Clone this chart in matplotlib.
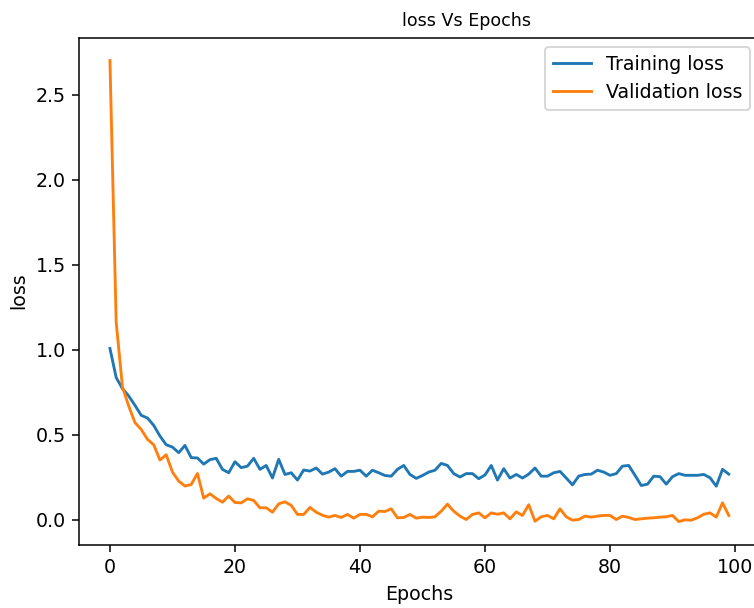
import matplotlib
matplotlib.use("Agg")
import matplotlib.pyplot as plt

epochs = list(range(100))

train_loss = [1.006, 0.835, 0.77, 0.727, 0.672, 0.613, 0.597, 0.554, 0.491, 0.44,
              0.426, 0.393, 0.436, 0.364, 0.362, 0.326, 0.352, 0.36, 0.295, 0.275,
              0.34, 0.305, 0.314, 0.36, 0.295, 0.318, 0.244, 0.354, 0.265, 0.275,
              0.232, 0.291, 0.285, 0.303, 0.267, 0.279, 0.299, 0.255, 0.283, 0.283,
              0.29, 0.255, 0.29, 0.275, 0.259, 0.255, 0.295, 0.318, 0.265, 0.242,
              0.259, 0.279, 0.29, 0.33, 0.318, 0.27, 0.25, 0.27, 0.27, 0.24,
              0.262, 0.318, 0.232, 0.299, 0.244, 0.265, 0.244, 0.267, 0.303, 0.255,
              0.255, 0.275, 0.283, 0.244, 0.204, 0.255, 0.265, 0.267, 0.29, 0.279,
              0.26, 0.27, 0.314, 0.318, 0.26, 0.2, 0.208, 0.255, 0.252, 0.208,
              0.252, 0.27, 0.26, 0.26, 0.26, 0.265, 0.246, 0.196, 0.295, 0.267]

val_loss = [2.70, 1.16, 0.78, 0.668, 0.57, 0.53, 0.472, 0.44, 0.35, 0.381,
            0.279, 0.226, 0.197, 0.206, 0.271, 0.126, 0.151, 0.124, 0.102, 0.138,
            0.10, 0.098, 0.122, 0.112, 0.069, 0.069, 0.043, 0.092, 0.104, 0.083,
            0.03, 0.03, 0.071, 0.043, 0.025, 0.014, 0.024, 0.012, 0.03, 0.008,
            0.03, 0.03, 0.016, 0.049, 0.047, 0.063, 0.01, 0.012, 0.03, 0.008,
            0.014, 0.012, 0.016, 0.049, 0.09, 0.049, 0.02, 0.0, 0.03, 0.039,
            0.01, 0.039, 0.031, 0.039, 0.004, 0.045, 0.024, 0.087, -0.01, 0.016,
            0.024, 0.004, 0.063, 0.016, -0.004, 0.0, 0.02, 0.014, 0.02, 0.024,
            0.024, 0.0, 0.02, 0.012, 0.0, 0.004, 0.008, 0.01, 0.014, 0.016,
            0.024, -0.012, -0.002, -0.004, 0.01, 0.031, 0.039, 0.014, 0.098, 0.024]

# rendered at a higher dpi so fonts and lines come out larger, like the original
fig = plt.figure(figsize=(754 / 137, 608 / 137), dpi=137)
ax = fig.add_axes([79 / 754, (608 - 544.6) / 608, (759.7 - 79) / 754, (544.6 - 37.5) / 608])
ax.plot(epochs, train_loss, label="Training loss")
ax.plot(epochs, val_loss, label="Validation loss")
ax.set_title("loss Vs Epochs", fontsize=9.2, x=0.569)
ax.set_xlabel("Epochs")
ax.set_ylabel("loss")
ax.legend()
fig.savefig("out.png", dpi=137)
